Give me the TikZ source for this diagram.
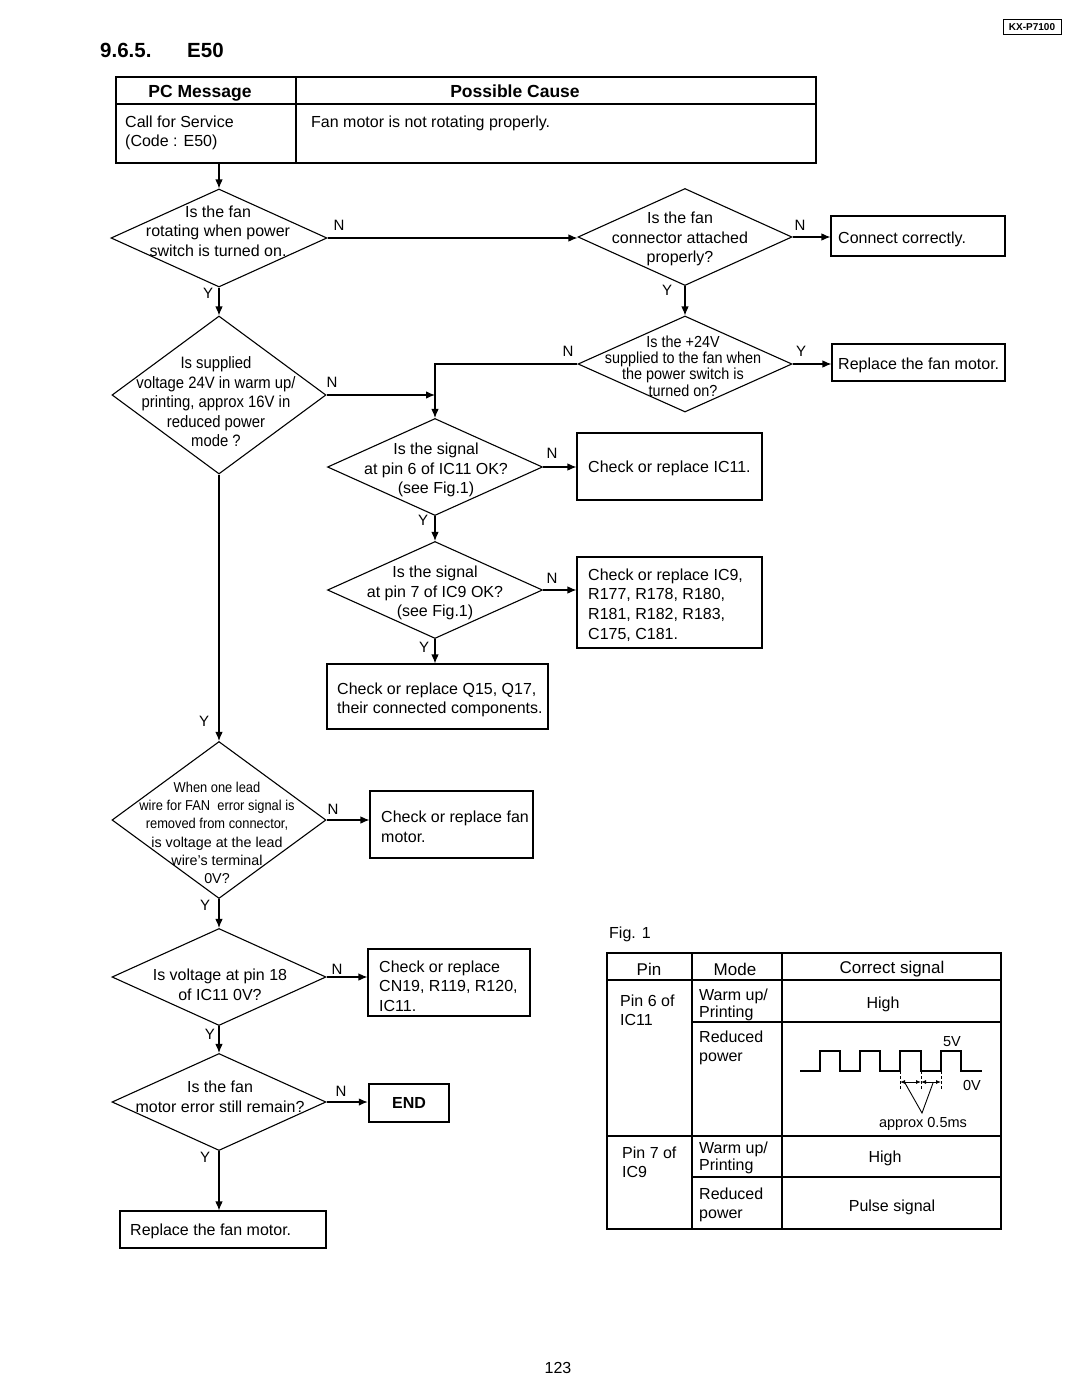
\documentclass[tikz,border=0pt]{standalone}
\usepackage{fontspec}
\setmainfont{Liberation Sans}
\newfontfamily\narrowfont[FakeStretch=0.9]{Liberation Sans}
\usetikzlibrary{shapes.geometric,arrows.meta}
\begin{document}
\begin{tikzpicture}[x=1pt,y=-1pt,
  txt/.style={font=\fontsize{16}{19.7}\selectfont,inner sep=0,align=left,yshift=-2pt},
  ctxt/.style={txt,align=center},
  box/.style={draw,line width=1.1pt,inner sep=0},
  dec/.style={diamond,draw,line width=1.1pt,inner sep=0,minimum width=214,minimum height=97},
  arr/.style={-{Latex[length=9pt,width=7.5pt]},line width=1.1pt},
  lbl/.style={font=\fontsize{15}{15}\selectfont,inner sep=0},
  tbl/.style={line width=1.2pt}]
\useasboundingbox (0,0) rectangle (1080,1397);
\node[box,line width=0.9pt,minimum width=58,minimum height=15,font=\bfseries\fontsize{10}{10}\selectfont] (model) at (1032,27) {KX-P7100};
\node[anchor=base west,inner sep=0,font=\bfseries\fontsize{20.5}{20}\selectfont] (sec) at (100,58) {9.6.5.};
\node[anchor=base west,inner sep=0,font=\bfseries\fontsize{20.5}{20}\selectfont] (err) at (187,58) {E50};
\node[box,tbl,minimum width=700,minimum height=86] (msg) at (466,120) {};
\draw[tbl] (116,104) -- (816,104) (296,77) -- (296,163);
\node[anchor=base,inner sep=0,font=\bfseries\fontsize{17.5}{20}\selectfont] (pcm) at (200,97.5) {PC Message};
\node[anchor=base,inner sep=0,font=\bfseries\fontsize{17.5}{20}\selectfont] (cause) at (515,97.5) {Possible Cause};
\node[txt,anchor=west] (call) at (125,131) {Call for Service\\(Code : E50)};
\node[txt,anchor=west] (fanmsg) at (311,121) {Fan motor is not rotating properly.};
\node[dec,minimum width=216,minimum height=98] (d1) at (219,238) {};
\node[ctxt] (t1) at (218,229) {Is the fan\\rotating when power\\switch is turned on.};
\node[dec] (d2) at (685,237) {};
\node[ctxt] (t2) at (680,237) {Is the fan\\connector attached\\properly?};
\node[dec,minimum height=96] (d3) at (685,364) {};
\node[ctxt,font=\narrowfont\fontsize{16}{16.2}\selectfont] (t3) at (683,364) {Is the +24V\\supplied to the fan when\\the power switch is\\turned on?};
\node[dec,minimum height=158] (d5) at (219,395) {};
\node[ctxt,font=\narrowfont\fontsize{16.5}{19.5}\selectfont] (t5) at (216,400) {Is supplied\\voltage 24V in warm up/\\printing, approx 16V in\\reduced power\\mode ?};
\node[dec,minimum width=215] (d4) at (435,467) {};
\node[ctxt] (t4) at (436,468) {Is the signal\\at pin 6 of IC11 OK?\\(see Fig.1)};
\node[dec,minimum width=215] (d6) at (435,590) {};
\node[ctxt] (t6) at (435,591) {Is the signal\\at pin 7 of IC9 OK?\\(see Fig.1)};
\node[dec,minimum height=157] (d7) at (219,820) {};
\node[ctxt,font=\narrowfont\fontsize{14.3}{18}\selectfont] (t7a) at (217,804) {When one lead\\wire for FAN\ \ error signal is\\removed from connector,};
\node[ctxt,font=\fontsize{14.3}{18}\selectfont] (t7b) at (217,858) {is voltage at the lead\\wire's terminal\\0V?};
\node[dec] (d8) at (219,977) {};
\node[ctxt] (t8) at (220,983) {Is voltage at pin 18\\of IC11 0V?};
\node[dec] (d9) at (219,1102) {};
\node[ctxt] (t9) at (220,1095) {Is the fan\\motor error still remain?};
\node[box,minimum width=174,minimum height=40] (conn) at (918,236) {};
\node[txt,anchor=west] (tconn) at (838,237) {Connect correctly.};
\node[box,minimum width=173,minimum height=37] (repl1) at (918.5,362.5) {};
\node[txt,anchor=west] (trepl1) at (838,363) {Replace the fan motor.};
\node[box,minimum width=185,minimum height=67] (ic11) at (669.5,466.5) {};
\node[txt,anchor=west] (tic11) at (588,466) {Check or replace IC11.};
\node[box,minimum width=185,minimum height=91] (ic9) at (669.5,602.5) {};
\node[txt,anchor=west] (tic9) at (588,603) {Check or replace IC9,\\R177, R178, R180,\\R181, R182, R183,\\C175, C181.};
\node[box,minimum width=221,minimum height=65] (q15) at (437.5,696.5) {};
\node[txt,anchor=west] (tq15) at (337,698) {Check or replace Q15, Q17,\\their connected components.};
\node[box,minimum width=163,minimum height=67] (fan) at (451.5,824.5) {};
\node[txt,anchor=west] (tfan) at (381,825) {Check or replace fan\\motor.};
\node[box,minimum width=162,minimum height=67] (cn19) at (449,982.5) {};
\node[txt,anchor=west] (tcn19) at (379,984) {Check or replace\\CN19, R119, R120,\\IC11.};
\node[box,line width=2.5pt,minimum width=80,minimum height=38,font=\bfseries\fontsize{16}{16}\selectfont] (fin) at (409,1103) {END};
\node[box,minimum width=206,minimum height=37] (repl2) at (223,1229.5) {};
\node[txt,anchor=west] (trepl2) at (130,1229) {Replace the fan motor.};
\draw[arr] (msg.south -| d1.north) -- (d1.north);
\draw[arr] (d1.east) -- (d1.east -| d2.west);
\draw[arr] (d2.east) -- (d2.east -| conn.west);
\draw[arr] (d2.south) -- (d3.north);
\draw[arr] (d3.east) -- (d3.east -| repl1.west);
\draw[arr] (d3.west) -| (d4.north);
\draw[arr] (d1.south) -- (d5.north);
\draw[arr] (d5.east) -- (d5.east -| d4.north);
\draw[arr] (d4.east) -- (d4.east -| ic11.west);
\draw[arr] (d4.south) -- (d6.north);
\draw[arr] (d6.east) -- (d6.east -| ic9.west);
\draw[arr] (d6.south) -- (d6.south |- q15.north);
\draw[arr] (d5.south) -- (d7.north);
\draw[arr] (d7.east) -- (d7.east -| fan.west);
\draw[arr] (d7.south) -- (d8.north);
\draw[arr] (d8.east) -- (d8.east -| cn19.west);
\draw[arr] (d8.south) -- (d9.north);
\draw[arr] (d9.east) -- (d9.east -| fin.west);
\draw[arr] (d9.south) -- (d9.south |- repl2.north);
\foreach \x/\y/\t [count=\i] in {339/225/N, 800/225/N, 667/290/Y, 801/351/Y, 568/351/N, 208/293/Y, 332/382/N, 552/453/N, 423/520/Y, 552/578/N, 424/647/Y, 204/721/Y, 333/809/N, 205/905/Y, 337/969/N, 210/1034/Y, 341/1091/N, 205/1157/Y}
  \node[lbl] (yn\i) at (\x,\y) {\t};
\node[txt,anchor=west] (fig) at (609,932) {Fig. 1};
\draw[tbl] (607,953) rectangle (1001,1229);
\draw[tbl] (692,953) -- (692,1229) (782,953) -- (782,1229) (607,980) -- (1001,980) (692,1022) -- (1001,1022) (607,1136) -- (1001,1136) (692,1177) -- (1001,1177);
\node[ctxt,font=\fontsize{17}{19}\selectfont] (hpin) at (649,967) {Pin};
\node[ctxt,font=\fontsize{17}{19}\selectfont] (hmode) at (735,967) {Mode};
\node[ctxt,font=\fontsize{17}{19}\selectfont] (hsig) at (892,967) {Correct signal};
\node[txt,anchor=west,font=\fontsize{16}{19}\selectfont] (p6) at (620,1008) {Pin 6 of\\IC11};
\node[txt,anchor=west,font=\fontsize{16}{17}\selectfont] (w6) at (699,1003) {Warm up/\\Printing};
\node[ctxt] (h6) at (883,1002) {High};
\node[txt,anchor=west,font=\fontsize{16}{19}\selectfont] (r6) at (699,1046) {Reduced\\power};
\node[txt,anchor=west,font=\fontsize{16}{19}\selectfont] (p7) at (622,1160) {Pin 7 of\\IC9};
\node[txt,anchor=west,font=\fontsize{16}{17}\selectfont] (w7) at (699,1156) {Warm up/\\Printing};
\node[ctxt] (h7) at (885,1156) {High};
\node[txt,anchor=west,font=\fontsize{16}{19}\selectfont] (r7) at (699,1203) {Reduced\\power};
\node[ctxt] (pulse) at (892,1205) {Pulse signal};
\draw[line width=1.1pt] (800,1071) -| (820,1051) -| (840,1071) -| (860,1051) -| (880,1071) -| (900,1051) -| (921,1071) -| (941,1051) -| (961,1071) -- (982,1071);
\draw[densely dashed,line width=0.8pt] (900,1071) -- (900,1089) (921,1071) -- (921,1089) (941,1071) -- (941,1089);
\draw[{Latex[length=5pt,width=4pt]}-{Latex[length=5pt,width=4pt]},line width=0.8pt] (900,1082) -- (921,1082);
\draw[{Latex[length=5pt,width=4pt]}-{Latex[length=5pt,width=4pt]},line width=0.8pt] (921,1082) -- (941,1082);
\draw[line width=0.9pt] (905,1083) -- (922,1113) -- (933,1083);
\node[ctxt,font=\fontsize{14.5}{16}\selectfont] (v5) at (952,1040) {5V};
\node[ctxt,font=\fontsize{14.5}{16}\selectfont] (v0) at (972,1083) {0V};
\node[ctxt,font=\fontsize{14.5}{16}\selectfont] (ms) at (923,1122) {approx 0.5ms};
\node[ctxt] (pg) at (558,1366) {123};
\end{tikzpicture}
\end{document}
